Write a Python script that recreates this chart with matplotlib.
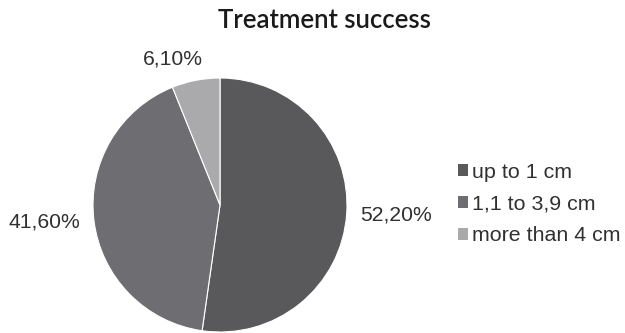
import numpy as np
import matplotlib
matplotlib.use("Agg")
import matplotlib.pyplot as plt
from matplotlib.patches import Patch

# Lesion size groups and their share of treatment success
categories = ["up to 1 cm", "1,1 to 3,9 cm", "more than 4 cm"]
shares = [52.2, 41.6, 6.1]
value_labels = ["52,20%", "41,60%", "6,10%"]
colors = ["#59595c", "#6e6e72", "#aaaaac"]

W, H = 625, 333
fig = plt.figure(figsize=(W / 100, H / 100), dpi=100)
ax = fig.add_axes([0, 0, 1, 1])

center = (220, H - 205)
radius = 127
wedges, _ = ax.pie(
    shares, colors=colors, startangle=90, counterclock=False,
    center=center, radius=radius,
    wedgeprops=dict(edgecolor="white", linewidth=0.8),
)
ax.set_xlim(0, W)
ax.set_ylim(0, H)
ax.set_aspect("equal")
ax.axis("off")

# Outside-end value labels, placed along each wedge's mid angle
label_font = dict(family=["Liberation Sans", "DejaVu Sans"], fontsize=15.2, color="#303030")
label_style = [
    dict(dist=1.11, shift=0, ha="left", va="center"),
    dict(dist=1.11, shift=0, ha="right", va="center"),
    dict(dist=1.21, shift=7, ha="center", va="center"),
]
for w, txt, st in zip(wedges, value_labels, label_style):
    ang = np.deg2rad((w.theta1 + w.theta2) / 2 + st["shift"])
    x = center[0] + st["dist"] * radius * np.cos(ang)
    y = center[1] + st["dist"] * radius * np.sin(ang)
    ax.text(x, y, txt, ha=st["ha"], va=st["va"], **label_font)

fig.text(324 / W, 1 - 20 / H, "Treatment success", ha="center", va="center",
         family=["Lato", "DejaVu Sans"], fontsize=18.5, fontweight="semibold",
         color="#1a1a1a")

handles = [Patch(facecolor=c, edgecolor="none") for c in colors]
leg = fig.legend(
    handles, categories, loc="center left", bbox_to_anchor=(458 / W, 1 - 204 / H),
    frameon=False, prop=dict(family=["Liberation Sans", "DejaVu Sans"], size=15.4),
    handlelength=0.47, handleheight=0.47, handletextpad=0.2, labelspacing=0.6,
    borderpad=0, borderaxespad=0,
)
for t in leg.get_texts():
    t.set_color("#303030")

fig.savefig("out.png", dpi=100, facecolor="white")
